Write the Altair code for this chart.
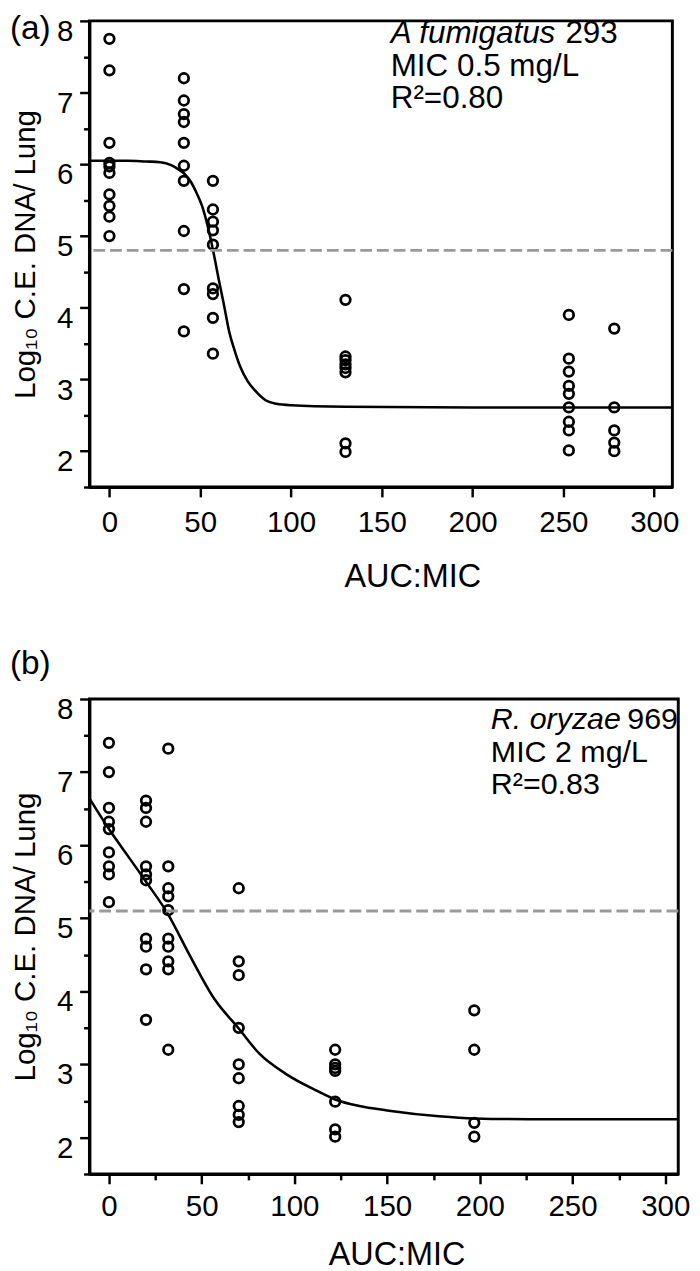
import altair as alt
import pandas as pd

# ---------------- Panel (a): A. fumigatus 293 ----------------
a_dose = [0, 41, 57, 130, 253, 278]
a_vals = [
    [7.75, 7.31, 6.30, 6.02, 5.97, 5.88, 5.58, 5.42, 5.27, 5.00],
    [7.20, 6.89, 6.70, 6.59, 6.30, 5.98, 5.77, 5.07, 4.26, 3.67],
    [5.77, 5.37, 5.20, 5.08, 4.88, 4.27, 4.19, 3.86, 3.36],
    [4.11, 3.32, 3.27, 3.21, 3.16, 3.10, 2.11, 1.99],
    [3.90, 3.29, 3.11, 2.91, 2.80, 2.61, 2.41, 2.29, 2.01],
    [3.71, 2.61, 2.29, 2.12, 2.00],
]
a_fit_x = [-11, 0, 10, 20, 28, 34, 38, 42, 45, 48, 51, 54, 57, 60, 63, 66, 69, 72, 76, 80, 86, 92, 100, 130, 200, 310]
a_fit_y = [6.05, 6.05, 6.05, 6.04, 6.03, 5.99, 5.93, 5.85, 5.75, 5.60, 5.42, 5.15, 4.81, 4.42, 4.05, 3.66, 3.40, 3.18, 2.98, 2.85, 2.71, 2.66, 2.64, 2.62, 2.61, 2.61]
a_stasis = [4.8]
a_xdomain = [-11, 310]

# ---------------- Panel (b): R. oryzae 969 ----------------
b_dose = [0, 20, 32, 70, 122, 197]
b_vals = [
    [7.40, 7.00, 6.51, 6.32, 6.22, 5.90, 5.71, 5.60, 5.22],
    [6.61, 6.51, 6.32, 5.71, 5.60, 5.52, 4.72, 4.61, 4.30, 3.61],
    [7.32, 5.71, 5.41, 5.30, 5.11, 4.72, 4.61, 4.41, 4.30, 3.20],
    [5.41, 4.41, 4.22, 3.50, 3.00, 2.81, 2.43, 2.31, 2.21],
    [3.20, 3.00, 2.95, 2.91, 2.49, 2.11, 2.01],
    [3.74, 3.20, 2.20, 2.01],
]
b_fit_x = [-10.5, 0, 10, 20, 32, 43, 57, 70, 81, 96, 112, 122, 135, 150, 178, 197, 226, 307]
b_fit_y = [6.64, 6.22, 5.86, 5.50, 5.05, 4.52, 3.89, 3.49, 3.15, 2.86, 2.64, 2.52, 2.43, 2.37, 2.29, 2.26, 2.25, 2.25]
b_stasis = [5.1]
b_xdomain = [-10.5, 307]

y_domain = [1.5, 8]
y_major = [2, 3, 4, 5, 6, 7, 8]
y_minor = [1.5, 2.5, 3.5, 4.5, 5.5, 6.5, 7.5]
x_major = [0, 50, 100, 150, 200, 250, 300]
x_minor_b = [25, 75, 125, 175, 225, 275]

FONT = "Liberation Sans"
Y_TITLE = "Log\u2081\u2080 C.E. DNA/ Lung"


def points_df(doses, vals):
    rows = []
    for d, vs in zip(doses, vals):
        for v in vs:
            rows.append({"x": d, "y": v})
    return pd.DataFrame(rows)


def panel(doses, vals, fit_x, fit_y, stasis, xdomain, xminor, width, height,
          tag, tag_y, species, rest, mic, r2, ann_x, ann_y0, species_w, ann_size,
          xlab_pad, xtitle_pad, xtitle_x):
    xs = alt.Scale(domain=xdomain, nice=False, zero=False)
    ys = alt.Scale(domain=y_domain, nice=False, zero=False)
    x_axis = alt.Axis(
        values=x_major, title="AUC:MIC", orient="bottom", tickSize=10,
        labelFontSize=30, titleFontSize=33, labelPadding=xlab_pad, titlePadding=xtitle_pad,
        titleX=xtitle_x, labelOverlap=False, grid=False,
    )
    y_axis = alt.Axis(
        values=y_major, title=Y_TITLE, orient="left", tickSize=10,
        labelFontSize=30, titleFontSize=30, labelPadding=7, titlePadding=16,
        labelOffset=11, labelBaseline="middle", labelOverlap=False, grid=False,
    )
    y_minor_axis = alt.Axis(
        values=y_minor, title=None, orient="left", tickSize=6, labels=False,
        domain=False, grid=False,
    )
    if xminor:
        x_fit_axis = alt.Axis(values=xminor, title=None, orient="bottom", tickSize=6,
                              labels=False, domain=False, grid=False)
    else:
        x_fit_axis = None

    pts = alt.Chart(points_df(doses, vals)).mark_point(
        shape="circle", filled=False, color="black", size=95, strokeWidth=2.8, opacity=1
    ).encode(
        x=alt.X("x:Q", scale=xs, axis=x_axis),
        y=alt.Y("y:Q", scale=ys, axis=y_axis),
    )
    fit = alt.Chart(pd.DataFrame({"x": fit_x, "y": fit_y})).mark_line(
        color="black", strokeWidth=2.6, interpolate="monotone"
    ).encode(
        x=alt.X("x:Q", scale=xs, axis=x_fit_axis),
        y=alt.Y("y:Q", scale=ys, axis=y_minor_axis),
    )
    rule = alt.Chart(pd.DataFrame({"y": stasis})).mark_rule(
        color="#9a9a9a", strokeWidth=3, strokeDash=[12, 5]
    ).encode(y=alt.Y("y:Q", scale=ys, axis=None))

    def txt(s, x, y, style="normal", size=31, align="left", baseline="alphabetic"):
        return alt.Chart(pd.DataFrame({"t": [s]})).mark_text(
            font=FONT, fontSize=size, fontStyle=style, align=align,
            baseline=baseline, color="black"
        ).encode(text="t:N", x=alt.value(x), y=alt.value(y))

    lab = txt(tag, -81, tag_y, size=34, baseline="top")
    t1 = txt(species, ann_x, ann_y0, style="italic", size=ann_size)
    t1b = txt(rest, ann_x + species_w, ann_y0, size=ann_size)
    t2 = txt(mic, ann_x, ann_y0 + 33, size=ann_size)
    t3 = txt(r2, ann_x, ann_y0 + 66, size=ann_size)
    return alt.layer(pts, fit, rule, lab, t1, t1b, t2, t3).resolve_axis(
        x="independent", y="independent"
    ).properties(width=width, height=height)


pa = panel(a_dose, a_vals, a_fit_x, a_fit_y, a_stasis, a_xdomain, [], 594, 475,
           "(a)", -9, "A fumigatus", "293", "MIC 0.5 mg/L", "R\u00b2=0.80", 307, 23, 178, 32,
           11, 24, 329)
pb = panel(b_dose, b_vals, b_fit_x, b_fit_y, b_stasis, b_xdomain, x_minor_b, 600, 484,
           "(b)", -52, "R. oryzae", "969", "MIC 2 mg/L", "R\u00b2=0.83", 409, 31, 139, 31,
           8, 18, 313)

chart = alt.vconcat(pa, pb, spacing=52).properties(
    padding={"left": 0, "top": -10, "right": 0, "bottom": 0}
).configure(font=FONT).configure_view(
    stroke="black", strokeWidth=3
).configure_axis(
    labelFont=FONT, titleFont=FONT, labelColor="black", titleColor="black",
    titleFontWeight="normal", domainColor="black", domainWidth=3,
    tickColor="black", tickWidth=2.5,
)

chart.save("out.html", embed_options={"renderer": "svg", "actions": False})
